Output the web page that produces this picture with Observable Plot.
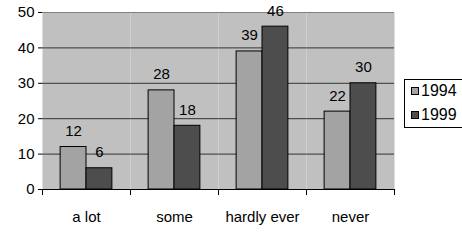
<!DOCTYPE html>
<html>
<head>
<meta charset="utf-8">
<script src="https://cdn.jsdelivr.net/npm/d3@7"></script>
<script src="https://cdn.jsdelivr.net/npm/@observablehq/plot@0.6"></script>
<style>
  html, body { margin: 0; padding: 0; background: #fff; }
  #wrap { position: relative; width: 462px; height: 242px; overflow: hidden; font-family: "Liberation Sans", Arial, sans-serif; }
  #legend { position: absolute; left: 404px; top: 79px; width: 62px; height: 49px; border: 1px solid #000; background: #fff; box-sizing: border-box; }
  .item { position: absolute; left: 6px; font-size: 16px; line-height: 16px; color: #000; }
  .sw { display: inline-block; width: 6px; height: 6px; border: 1px solid #000; margin-right: 2px; vertical-align: 1px; }
</style>
</head>
<body>
<div id="wrap"><div id="legend"></div></div>
<script>
const categories = ["a lot", "some", "hardly ever", "never"];
const years = ["1994", "1999"];
const values1994 = [12, 28, 39, 22];
const values1999 = [6, 18, 46, 30];
const yTicks = [0, 10, 20, 30, 40, 50];
const colors = ["#a3a3a3", "#4d4d4d"];

const seriesValues = [values1994, values1999];
const data = categories.flatMap((c, i) =>
  years.map((y, j) => ({category: c, year: y, value: seriesValues[j][i]}))
);

const W = 462, H = 242, mT = 12, mB = 53, mL = 40, mR = 67;
const plotH = H - mT - mB;

const chart = Plot.plot({
  width: W, height: H,
  marginLeft: mL, marginRight: mR, marginTop: mT, marginBottom: mB,
  style: {fontFamily: "'Liberation Sans', Arial, sans-serif", fontSize: "15px", color: "#000", background: "transparent", overflow: "visible"},
  fx: {domain: categories, padding: 0, label: null},
  x: {domain: years, paddingInner: 0, paddingOuter: 0.7, axis: null, round: false},
  y: {domain: [0, 50]},
  color: {domain: years, range: colors},
  marks: [
    Plot.frame({fill: "#c0c0c0", stroke: "none"}),
    Plot.ruleY(yTicks.filter(t => t > 0 && t < 50), {stroke: "#333"}),
    Plot.ruleY([50], {stroke: "#808080"}),
    Plot.barY(data, {fx: "category", x: "year", y: "value", fill: "year", stroke: "#000", strokeWidth: 1}),
    Plot.text(data, {fx: "category", x: "year", y: "value", text: d => String(d.value), lineAnchor: "bottom", dy: -11, fill: "#000", fontSize: 15}),
    Plot.ruleY([0], {stroke: "#000"}),
    Plot.frame({anchor: "left", insetTop: plotH, insetBottom: -5, stroke: "#000"}),
    Plot.frame({anchor: "right", insetTop: plotH, insetBottom: -5, stroke: "#000"}),
    Plot.axisY({anchor: "left", ticks: yTicks, tickSize: 4, tickPadding: 4, line: true, label: null, fontSize: 15}),
    Plot.axisY({anchor: "right", ticks: [], line: true, stroke: "#909090", label: null}),
    Plot.axisFx({anchor: "bottom", tickSize: 0, tickPadding: 22, label: null, fontSize: 15})
  ]
});
document.getElementById("wrap").prepend(chart);

const legend = document.getElementById("legend");
years.forEach((y, j) => {
  const item = document.createElement("div");
  item.className = "item";
  item.style.top = (3 + j * 24) + "px";
  const sw = document.createElement("span");
  sw.className = "sw";
  sw.style.background = colors[j];
  item.appendChild(sw);
  item.appendChild(document.createTextNode(y));
  legend.appendChild(item);
});
</script>
</body>
</html>
